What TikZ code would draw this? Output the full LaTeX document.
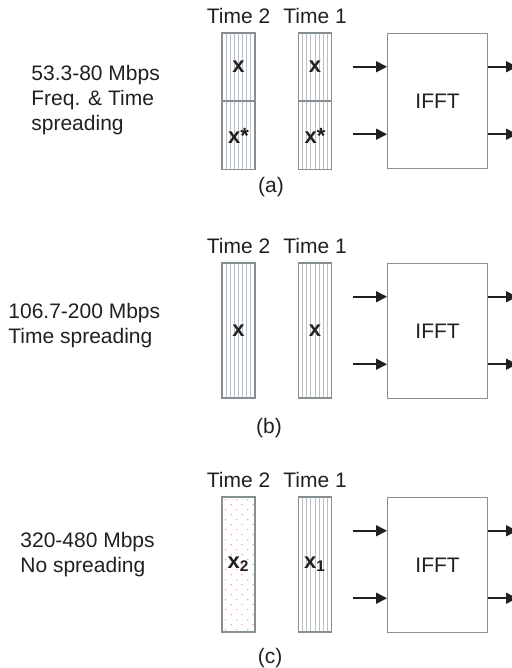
\documentclass[tikz,border=0pt]{standalone}
\usepackage{fontspec}
\setmainfont{Liberation Sans}
\usetikzlibrary{positioning,arrows.meta,calc}
\definecolor{ofdmInk}{HTML}{231F20}
\definecolor{ofdmEdge}{HTML}{858E91}
\definecolor{ofdmHatch}{HTML}{BAC0C3}
\definecolor{ofdmDot}{HTML}{F0A3C4}
\newcommand{\ofdmsize}{\fontsize{10.5}{12.5}\selectfont}
\tikzset{
  slot/.style     = {draw=ofdmEdge, line width=0.6pt, minimum width=16.5pt,
                     inner sep=0pt, font=\fontsize{11}{13}\selectfont\bfseries, text=ofdmInk},
  hatched/.style  = {slot, path picture={
                       \foreach \k in {1,...,7}
                         \draw[ofdmHatch, line width=0.45pt]
                           ($(path picture bounding box.south west)!\k/8!(path picture bounding box.south east)$) --
                           ($(path picture bounding box.north west)!\k/8!(path picture bounding box.north east)$);}},
  speckled/.style = {slot, path picture={
                       \foreach \r in {0,...,26}
                         \foreach \c in {0,1,2}
                           \fill[ofdmDot] ($(path picture bounding box.north west)+({\c*5.5pt+mod(\r,2)*2.75pt+1.8pt},{-\r*2.5pt-1.3pt})$) circle (0.4pt);}},
  fftbox/.style   = {draw=ofdmEdge, line width=0.6pt, minimum width=50pt,
                     minimum height=67.5pt, inner sep=0pt, anchor=north west},
  sig/.style      = {-{Triangle[length=5.5pt,width=5.5pt]}, line width=0.8pt, draw=ofdmInk},
  rate/.style     = {align=left, inner sep=0pt, anchor=west},
}

\begin{document}
\begin{tikzpicture}[x=0.5pt, y=-0.5pt, font=\ofdmsize, text=ofdmInk]
  \useasboundingbox (0,0) rectangle (511,668);

  \node[hatched, minimum height=33.75pt] (a2top) at (238.5,66.75) {x};
  \node[hatched, minimum height=33.75pt, below=0pt of a2top] (a2bot) {x*};
  \node[hatched, minimum height=33.75pt] (a1top) at (315,66.75) {x};
  \node[hatched, minimum height=33.75pt, below=0pt of a1top] (a1bot) {x*};
  \node[above=1pt of a2top] (a2time) {Time 2};
  \node[above=1pt of a1top] (a1time) {Time 1};
  \node[rate] (arate) at (31,100) {53.3-80 Mbps\\Freq. \& Time\\spreading};
  \node (acap) at (271,187) {(a)};

  \node[hatched, minimum height=67.5pt] (b2) at (238.5,330.5) {x};
  \node[hatched, minimum height=67.5pt] (b1) at (315,330.5) {x};
  \node[above=1pt of b2] (b2time) {Time 2};
  \node[above=1pt of b1] (b1time) {Time 1};
  \node[rate] (brate) at (8,326) {106.7-200 Mbps\\Time spreading};
  \node (bcap) at (269,428) {(b)};

  \node[speckled, minimum height=67.5pt] (c2) at (238.5,564.5) {x\textsubscript{2}};
  \node[hatched, minimum height=67.5pt] (c1) at (315,564.5) {x\textsubscript{1}};
  \node[above=1pt of c2] (c2time) {Time 2};
  \node[above=1pt of c1] (c1time) {Time 1};
  \node[rate] (crate) at (20,555) {320-480 Mbps\\No spreading};
  \node (ccap) at (270,658) {(c)};

  \foreach \p/\top in {a/33,b/263,c/497} {
    \node[fftbox] (\p fft) at (387,\top) {IFFT};
    \coordinate (\p in1) at (353,\top+33.75);
    \coordinate (\p in2) at (353,\top+101.25);
    \coordinate (\p out1) at (517,\top+33.75);
    \coordinate (\p out2) at (517,\top+101.25);
    \draw[sig] (\p in1) -- (\p in1 -| \p fft.west);
    \draw[sig] (\p in2) -- (\p in2 -| \p fft.west);
    \draw[sig] (\p out1 -| \p fft.east) -- (\p out1);
    \draw[sig] (\p out2 -| \p fft.east) -- (\p out2);
  }
\end{tikzpicture}
\end{document}
